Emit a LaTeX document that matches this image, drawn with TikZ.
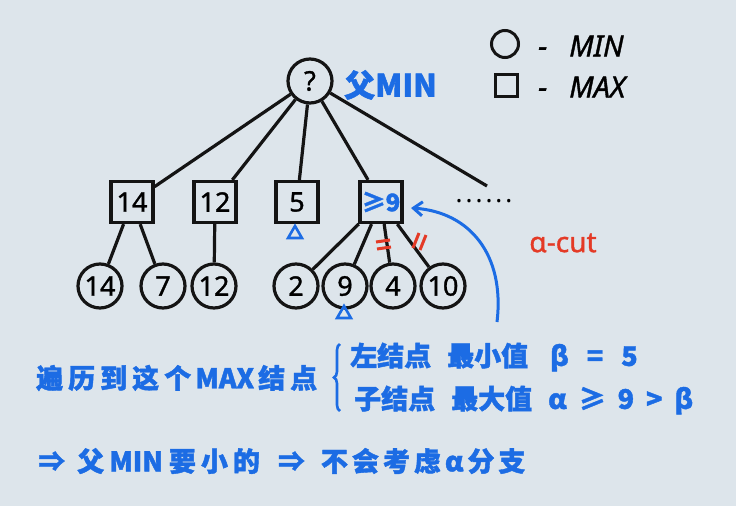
\documentclass[tikz,border=0pt]{standalone}
\usepackage{fontspec}
\newfontfamily\cjk[FakeBold=1.5]{Noto Sans CJK SC}
\setmainfont{Noto Sans}
\newfontfamily\heavy[FakeBold=1.2]{Noto Sans}
\usetikzlibrary{shapes.geometric,decorations.pathreplacing,arrows.meta}
\definecolor{bgc}{RGB}{221,229,235}
\definecolor{pen}{RGB}{20,20,20}
\definecolor{bluepen}{RGB}{28,108,228}
\definecolor{redpen}{RGB}{228,58,38}
\tikzset{
  minnode/.style={circle,draw=pen,line width=3.2pt,minimum size=44pt,inner sep=0pt,font=\heavy\fontsize{27}{27}\selectfont},
  maxnode/.style={rectangle,draw=pen,line width=3.2pt,minimum width=42pt,minimum height=41pt,inner sep=0pt,font=\heavy\fontsize{27}{27}\selectfont},
  edge/.style={draw=pen,line width=3.2pt},
  note/.style={text=bluepen,font=\cjk\bfseries\fontsize{27}{27}\selectfont,inner sep=0pt,anchor=west},
  legendtext/.style={anchor=west,inner sep=0pt,font=\heavy\fontsize{29}{29}\selectfont\itshape},
  tri/.style={regular polygon,regular polygon sides=3,draw=bluepen,line width=2.6pt,minimum size=16pt,inner sep=0pt},
  redmark/.style={draw=redpen,line width=3pt},
}
\begin{document}
\begin{tikzpicture}[x=1pt,y=-1pt]
\fill[bgc] (0,0) rectangle (736,506);
\useasboundingbox (0,0) rectangle (736,506);
% legend
\node[circle,draw=pen,line width=3pt,minimum size=27pt,inner sep=0pt] (lmin) at (505,44) {};
\node[rectangle,draw=pen,line width=3pt,minimum size=22pt,inner sep=0pt] (lmax) at (506,85) {};
\node[legendtext] (lmint) at (538,46) {-\hspace{22pt}MIN};
\node[legendtext] (lmaxt) at (538,87) {-\hspace{22pt}MAX};
% root
\node[minnode] (root) at (310,81) {?};
\node[note,font=\cjk\bfseries\fontsize{31}{31}\selectfont] (fmin) at (344,85) {父MIN};
% max nodes
\node[maxnode] (s14) at (132,202) {14};
\node[maxnode] (s12) at (215,202) {12};
\node[maxnode] (s5) at (297,202) {5};
\node[maxnode,text=bluepen,font=\cjk\bfseries\fontsize{24}{24}\selectfont] (s9) at (381,202) {≥9};
\coordinate (more) at (487,186);
\node[inner sep=0pt,font=\fontsize{26}{26}\selectfont\bfseries] (dots) at (484,201) {.\hspace{3pt}.\hspace{3pt}.\hspace{3pt}.\hspace{3pt}.\hspace{3pt}.};
% min leaves
\node[minnode] (c14) at (100,286) {14};
\node[minnode] (c7) at (163,286) {7};
\node[minnode] (c12) at (214,286) {12};
\node[minnode] (c2) at (296,286) {2};
\node[minnode] (c9) at (345,286) {9};
\node[minnode] (c4) at (393,286) {4};
\node[minnode] (c10) at (443,286) {10};
% edges
\foreach \t in {s14,s12,s5,s9} \draw[edge] (root) -- (\t);
\draw[edge] (root) -- (more);
\draw[edge] (s14) -- (c14);
\draw[edge] (s14) -- (c7);
\draw[edge] (s12) -- (c12);
\draw[edge] (s9) -- (c2);
\draw[edge] (s9) -- (c9);
\draw[edge] (s9) -- (c4);
\draw[edge] (s9) -- (c10);
% red cut marks
\draw[redmark] (376,242) -- (390,240);
\draw[redmark] (377,249) -- (391,247);
\draw[redmark] (413,248) -- (419,233);
\draw[redmark] (420,250) -- (426,235);
% triangles
\node[tri] (t5) at (295,234) {};
\node[tri] (t9) at (344,314) {};
% blue arrow
\coordinate (arrstart) at (497,322);
\coordinate (arrend) at (411,208);
\draw[bluepen,line width=3pt,-{Straight Barb[length=9pt,width=14pt]}] (arrstart) .. controls (505,255) and (470,212) .. (arrend);
\node[inner sep=0pt,text=redpen,font=\heavy\fontsize{28}{28}\selectfont] (acut) at (563,243) {α-cut};
% notes
\node[note] (n1) at (36,378) {遍\hspace{5pt}历\hspace{5pt}到\hspace{5pt}这\hspace{5pt}个\hspace{4pt}MAX\hspace{4pt}结\hspace{5pt}点};
\draw[bluepen,line width=2.6pt,decorate,decoration={brace,amplitude=6pt}] (340,411) -- (340,344);
\node[note] (n2) at (350,357) {左结点\hspace{16pt}最小值\hspace{22pt}β\hspace{18pt}=\hspace{18pt}5};
\node[note] (n3) at (354,400) {子结点\hspace{16pt}最大值\hspace{16pt}α\hspace{12pt}≥\hspace{12pt}9\hspace{12pt}>\hspace{12pt}β};
\node[note] (n4) at (38,461) {⇒\hspace{12pt}父\hspace{5pt}MIN\hspace{6pt}要\hspace{5pt}小\hspace{5pt}的\hspace{18pt}⇒\hspace{16pt}不\hspace{4pt}会\hspace{4pt}考\hspace{4pt}虑\hspace{4pt}α\hspace{4pt}分\hspace{4pt}支};
\end{tikzpicture}
\end{document}
